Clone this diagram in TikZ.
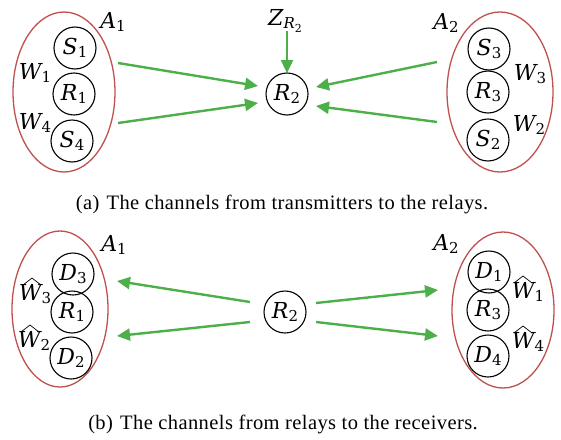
\documentclass[tikz,border=0pt]{standalone}
\usepackage{fontspec}
\setmainfont{Liberation Serif}[LetterSpace=2]
\newfontfamily\mf{DejaVu Serif}
\usetikzlibrary{arrows.meta,shapes.geometric}
\definecolor{ered}{RGB}{192,80,77}
\definecolor{agreen}{RGB}{77,175,74}
\newcommand\sz[1]{\fontsize{#1}{#1}\selectfont}
\newcommand\lb[2]{{\mf\sz{22}\itshape #1}\raisebox{-0.3em}{\mf\sz{15}#2}}
\begin{document}
\begin{tikzpicture}[x=1pt,y=-1pt,
  nd/.style={circle,draw,line width=1.1pt,minimum size=42pt,inner sep=0pt},
  grp/.style={ellipse,draw=ered,line width=1.3pt,inner sep=0pt},
  txt/.style={inner sep=0pt},
  captxt/.style={inner sep=0pt,font=\sz{20.5}},
  arr/.style={agreen,line width=2.4pt,-{Triangle[length=13pt,width=12pt]}},
  hat/.style={line width=0.7pt}]
\useasboundingbox (0,0) rectangle (561,439);
% ---------- (a) ----------
\node[grp,minimum width=102pt,minimum height=160pt] (ea1) at (64,92) {};
\node[grp,minimum width=106pt,minimum height=160pt] (ea2) at (500,92) {};
\node[nd] (s1) at (75,48) {\lb{S}{1}};
\node[nd] (r1) at (74,94) {\lb{R}{1}};
\node[nd] (s4) at (72,141) {\lb{S}{4}};
\node[nd] (s3) at (489,49) {\lb{S}{3}};
\node[nd] (r3) at (488,92) {\lb{R}{3}};
\node[nd] (s2) at (488,140) {\lb{S}{2}};
\node[nd] (r2a) at (287,94) {\lb{R}{2}};
\node[txt] (a1a) at (113,22) {\lb{A}{1}};
\node[txt] (a2a) at (446,23) {\lb{A}{2}};
\node[txt] (w1) at (35,73) {\lb{W}{1}};
\node[txt] (w4) at (35,123) {\lb{W}{4}};
\node[txt] (w3) at (530,74) {\lb{W}{3}};
\node[txt] (w2) at (529,125) {\lb{W}{2}};
\node[txt] (z) at (285,21) {{\mf\sz{22}\itshape Z}\raisebox{-0.35em}{\mf\sz{15}\itshape R\raisebox{-0.25em}{\sz{11}\upshape 2}}};
\coordinate (za) at (287,31);
\coordinate (zb) at (287,73);
\draw[arr] (za) -- (zb);
\coordinate (l1s) at (118,63);  \coordinate (l1e) at (258,86);
\coordinate (l2s) at (118,123); \coordinate (l2e) at (258,103);
\coordinate (q1s) at (437,62);  \coordinate (q1e) at (316,87);
\coordinate (q2s) at (437,122); \coordinate (q2e) at (316,106);
\draw[arr] (l1s) -- (l1e);
\draw[arr] (l2s) -- (l2e);
\draw[arr] (q1s) -- (q1e);
\draw[arr] (q2s) -- (q2e);
\node[captxt] (capa) at (282,204) {(a)\hspace{0.35em}The channels from transmitters to the relays.};
% ---------- (b) ----------
\node[grp,minimum width=96pt,minimum height=156pt] (eb1) at (60,309) {};
\node[grp,minimum width=102pt,minimum height=156pt] (eb2) at (503,310) {};
\node[nd] (d3) at (73,274) {\lb{D}{3}};
\node[nd] (r1b) at (72,312) {\lb{R}{1}};
\node[nd] (d2) at (71,358) {\lb{D}{2}};
\node[nd] (d1) at (489,272) {\lb{D}{1}};
\node[nd] (r3b) at (488,310) {\lb{R}{3}};
\node[nd] (d4) at (488,356) {\lb{D}{4}};
\node[nd] (r2b) at (285,312) {\lb{R}{2}};
\node[txt] (a1b) at (114,245) {\lb{A}{1}};
\node[txt] (a2b) at (446,244) {\lb{A}{2}};
\node[txt] (hw3) at (35,294) {\lb{W}{3}};
\node[txt] (hw2) at (34,341) {\lb{W}{2}};
\node[txt] (hw1) at (528,292) {\lb{W}{1}};
\node[txt] (hw4) at (528,342) {\lb{W}{4}};
\draw[hat] (23,285) -- (32,278) -- (41,285);
\draw[hat] (21,332) -- (30,325) -- (39,332);
\draw[hat] (514,283) -- (523,276) -- (532,283);
\draw[hat] (514,333) -- (523,326) -- (532,333);
\coordinate (m1s) at (250,302); \coordinate (m1e) at (117,281);
\coordinate (m2s) at (250,322); \coordinate (m2e) at (117,336);
\coordinate (n1s) at (316,303); \coordinate (n1e) at (438,290);
\coordinate (n2s) at (316,322); \coordinate (n2e) at (438,336);
\draw[arr] (m1s) -- (m1e);
\draw[arr] (m2s) -- (m2e);
\draw[arr] (n1s) -- (n1e);
\draw[arr] (n2s) -- (n2e);
\node[captxt] (capb) at (283,424) {(b)\hspace{0.35em}The channels from relays to the receivers.};
\end{tikzpicture}
\end{document}
